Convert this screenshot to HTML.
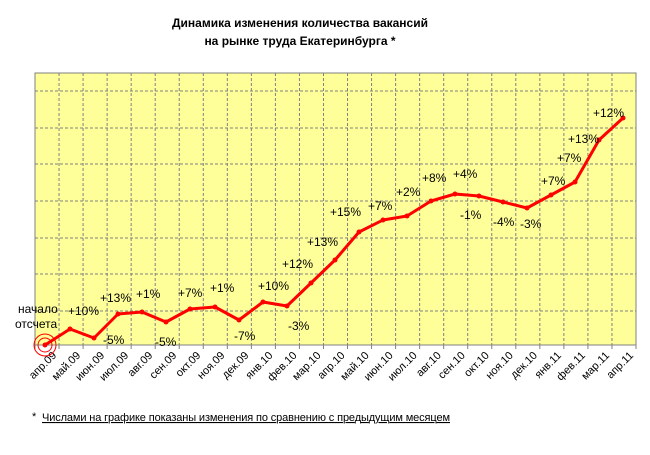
<!DOCTYPE html>
<html><head><meta charset="utf-8"><style>
body{margin:0;background:#fff;}
svg text{font-family:"Liberation Sans","DejaVu Sans",sans-serif;}
</style></head><body>
<svg width="650" height="450" xmlns="http://www.w3.org/2000/svg">
<text x="300" y="27" font-size="12" font-weight="bold" text-anchor="middle">Динамика изменения количества вакансий</text>
<text x="300" y="45" font-size="12" font-weight="bold" text-anchor="middle">на рынке труда Екатеринбурга *</text>
<rect x="35" y="73" width="601" height="272" fill="#ffff99" stroke="#808080" stroke-width="1"/>
<g stroke="#808080" stroke-dasharray="3,2" stroke-width="1" id="grid"></g>
<g id="ticks" stroke="#808080"></g>
<g id="xl" font-size="11"></g>
<polyline id="line" fill="none" stroke="#ff0000" stroke-width="3" stroke-linejoin="round"/>
<g id="pts" fill="#ff0000"></g>
<circle cx="45" cy="345" r="11" fill="none" stroke="#ff0000" stroke-width="1"/>
<circle cx="45" cy="345" r="7" fill="none" stroke="#ff0000" stroke-width="1"/>
<g font-size="12" fill="#000" id="lbl">
<text x="18" y="313">начало</text>
<text x="15" y="328">отсчета</text>
</g>
<text x="32" y="420" font-size="11">*</text>
<text x="42" y="421" font-size="11" text-decoration="underline" textLength="408">Числами на графике показаны изменения по сравнению с предыдущим месяцем</text>
<script>
var ns="http://www.w3.org/2000/svg";
function el(t,a,p,txt){var e=document.createElementNS(ns,t);for(var k in a)e.setAttribute(k,a[k]);if(txt)e.textContent=txt;document.getElementById(p).appendChild(e);return e;}
var cw=601/25;
for(var i=1;i<25;i++){var x=35+i*cw;el("line",{x1:x,y1:73,x2:x,y2:345},"grid");}
[91,128,164,201,238,274,311].forEach(function(y){el("line",{x1:35,y1:y,x2:636,y2:y},"grid");});
for(var i=0;i<=25;i++){var x=35+i*cw;el("line",{x1:x,y1:345,x2:x,y2:349},"ticks");}
var pts=[[45,345],[70,329],[94,338],[118,314],[142,312],[166,322],[190,309],[215,307],[239,320],[263,302],[287,306],[311,283],[335,260],[359,232],[383,220],[407,216],[431,201],[455,194],[479,196],[503,202],[527,208],[551,195],[575,182],[599,140],[623,118]];
document.getElementById("line").setAttribute("points",pts.map(function(p){return p.join(",")}).join(" "));
pts.forEach(function(p){el("circle",{cx:p[0],cy:p[1],r:2.5},"pts");});
var months=["апр.09","май.09","июн.09","июл.09","авг.09","сен.09","окт.09","ноя.09","дек.09","янв.10","фев.10","мар.10","апр.10","май.10","июн.10","июл.10","авг.10","сен.10","окт.10","ноя.10","дек.10","янв.11","фев.11","мар.11","апр.11"];
months.forEach(function(m,i){var x=35+(i+0.5)*cw+10,y=356;el("text",{x:x,y:y,"text-anchor":"end",transform:"rotate(-45 "+x+" "+y+")"},"xl",m);});
var L=[["+10%",68,315],["-5%",103,344],["+13%",100,302],["+1%",136,298],["-5%",155,346],["+7%",178,297],["+1%",210,292],["-7%",234,340],["+10%",258,290],["-3%",288,330],["+12%",282,268],["+13%",307,246],["+15%",330,216],["+7%",368,210],["+2%",396,196],["+8%",422,182],["+4%",453,178],["-1%",460,219],["-4%",493,226],["-3%",520,228],["+7%",541,185],["+7%",557,162],["+13%",568,143],["+12%",593,117]];
L.forEach(function(l){el("text",{x:l[1],y:l[2]},"lbl",l[0]);});
</script>
</svg>
</body></html>
